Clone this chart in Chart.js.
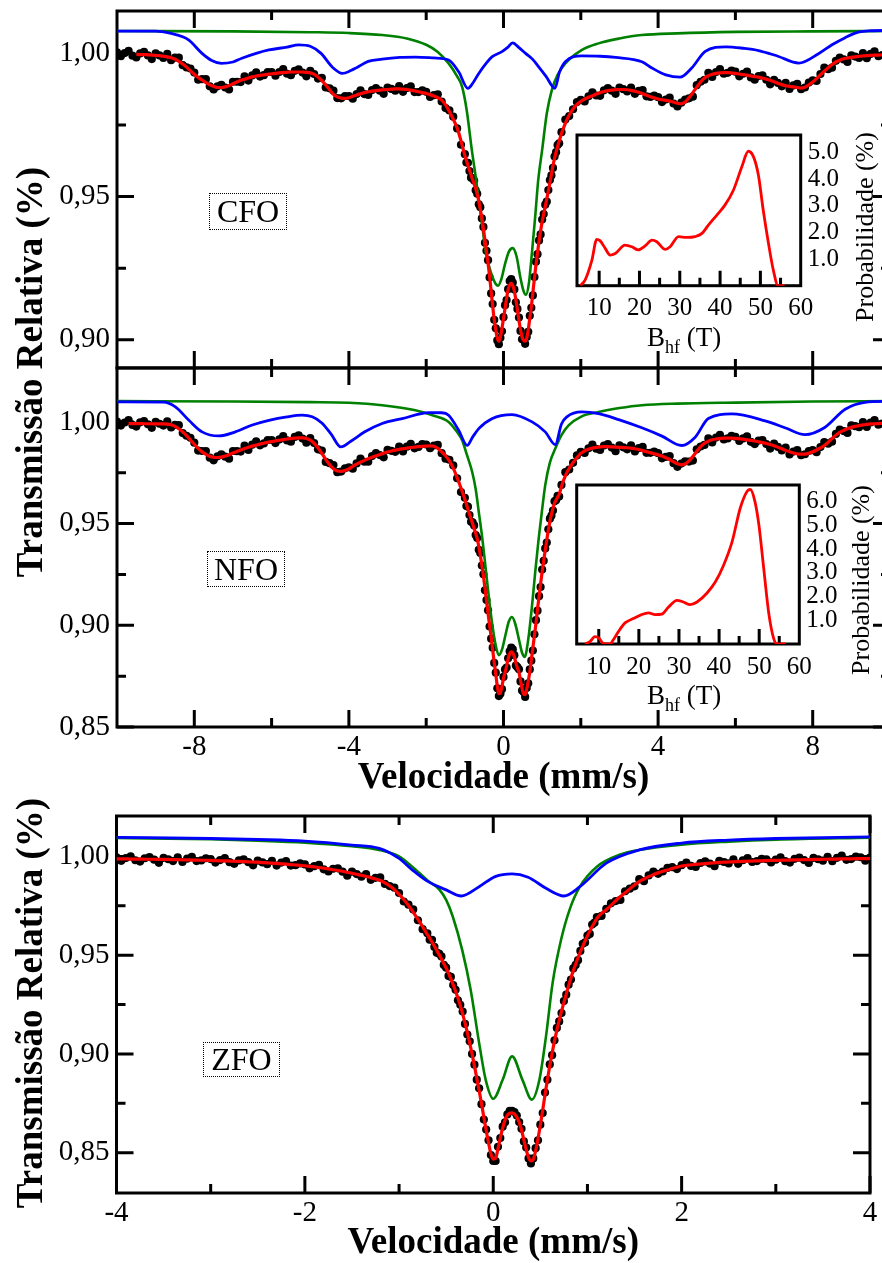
<!DOCTYPE html>
<html>
<head>
<meta charset="utf-8">
<title>Espectros Mössbauer</title>
<script src="https://cdn.jsdelivr.net/npm/chart.js@4.4.1/dist/chart.umd.min.js"></script>
<style>
  html, body { margin: 0; padding: 0; background: #fff; overflow: hidden; }
  #page { position: relative; width: 882px; height: 1263px; overflow: hidden; background: #fff; }
  canvas { position: absolute; }
  .txt { position: absolute; font-family: 'Liberation Serif', 'Times New Roman', serif; color: #000; white-space: nowrap; }
  .ytitle { font-size: 37px; font-weight: bold; line-height: 40px; transform: translate(-50%, -50%) rotate(-90deg); }
  .ptitle { font-size: 26px; line-height: 28px; transform: translate(-50%, -50%) rotate(-90deg); }
  .tag { box-sizing: border-box; border: 1px dotted #000; font-size: 32px; display: flex; align-items: center; justify-content: center; }
  .bhf { font-size: 27px; line-height: 26px; }
  .bhf sub { font-size: 18px; vertical-align: -7px; line-height: 0; }
</style>
</head>
<body>
<div id="page">
  <canvas id="cfo" width="900" height="372" style="left:0;top:0;width:900px;height:372px"></canvas>
  <canvas id="nfo" width="900" height="435" style="left:0;top:362px;width:900px;height:435px"></canvas>
  <canvas id="zfo" width="882" height="462" style="left:0;top:800px;width:882px;height:462px"></canvas>
  <canvas id="cfoDist" width="322" height="215" style="left:560px;top:125px;width:322px;height:215px"></canvas>
  <canvas id="nfoDist" width="322" height="215" style="left:560px;top:475px;width:322px;height:215px"></canvas>

  <div class="txt ytitle" style="left:30px;top:372px">Transmissão Relativa (%)</div>
  <div class="txt ytitle" style="left:30px;top:1003px">Transmissão Relativa (%)</div>

  <div class="txt tag" style="left:209px;top:193px;width:78px;height:37px">CFO</div>
  <div class="txt tag" style="left:207px;top:551px;width:78px;height:36px">NFO</div>
  <div class="txt tag" style="left:203px;top:1042px;width:77px;height:35px">ZFO</div>

  <div class="txt bhf" style="left:647px;top:324px">B<sub>hf</sub> (T)</div>
  <div class="txt bhf" style="left:647px;top:682px">B<sub>hf</sub> (T)</div>
  <div class="txt ptitle" style="left:865px;top:227px">Probabilidade (%)</div>
  <div class="txt ptitle" style="left:861px;top:580px">Probabilidade (%)</div>
</div>

<script>
// ---------- velocity channels (mm/s): coarse outer channels, fine channels over the central doublet ----------
function channels(segments) {
  const v = [];
  for (const [start, step, count] of segments) {
    for (let i = 0; i < count; i++) v.push(+(start + i * step).toFixed(3));
  }
  return v;
}
const ferriteChannels = channels([[-10, 0.1, 90], [-1.0, 0.04, 62], [1.5, 0.1, 85]]);
const zincChannels = channels([[-4, 0.05, 66], [-0.7, 0.025, 73], [1.15, 0.05, 58]]);

// ---------- CFO ----------
const cfoDots = [
  1.0004,0.9990,1.0001,1.0009,0.9992,0.9986,1.0000,1.0005,0.9993,0.9980,
  1.0000,0.9993,0.9984,0.9998,0.9976,0.9985,0.9985,0.9959,0.9951,0.9947,
  0.9933,0.9908,0.9910,0.9910,0.9885,0.9874,0.9885,0.9890,0.9881,0.9874,
  0.9901,0.9901,0.9900,0.9920,0.9905,0.9923,0.9934,0.9919,0.9924,0.9935,
  0.9935,0.9922,0.9935,0.9945,0.9929,0.9924,0.9939,0.9944,0.9933,0.9920,
  0.9939,0.9928,0.9912,0.9915,0.9881,0.9878,0.9870,0.9844,0.9843,0.9851,
  0.9851,0.9842,0.9858,0.9871,0.9858,0.9855,0.9872,0.9879,0.9870,0.9859,
  0.9881,0.9876,0.9870,0.9886,0.9866,0.9879,0.9885,0.9865,0.9865,0.9871,
  0.9866,0.9848,0.9854,0.9857,0.9832,0.9809,0.9801,0.9779,0.9738,0.9681,
  0.9648,0.9619,0.9618,0.9589,0.9566,0.9564,0.9556,0.9522,0.9510,0.9473,
  0.9463,0.9424,0.9394,0.9339,0.9311,0.9278,0.9218,0.9162,0.9125,0.9070,
  0.9040,0.8998,0.8985,0.9007,0.9030,0.9079,0.9121,0.9139,0.9177,0.9205,
  0.9212,0.9200,0.9176,0.9131,0.9108,0.9078,0.9031,0.9002,0.9005,0.8986,
  0.9010,0.9028,0.9084,0.9112,0.9155,0.9219,0.9273,0.9299,0.9347,0.9368,
  0.9420,0.9439,0.9472,0.9483,0.9523,0.9558,0.9574,0.9600,0.9640,0.9655,
  0.9680,0.9686,
  0.9725,0.9769,0.9781,0.9805,0.9830,
  0.9838,0.9832,0.9850,0.9864,0.9853,0.9852,0.9871,0.9879,0.9870,0.9859,
  0.9881,0.9875,0.9867,0.9881,0.9859,0.9869,0.9872,0.9850,0.9848,0.9853,
  0.9847,0.9830,0.9839,0.9846,0.9825,0.9815,0.9828,0.9839,0.9843,0.9849,
  0.9889,0.9901,0.9908,0.9932,0.9918,0.9935,0.9945,0.9929,0.9932,0.9940,
  0.9936,0.9920,0.9929,0.9936,0.9916,0.9908,0.9921,0.9923,0.9908,0.9892,
  0.9908,0.9897,0.9885,0.9897,0.9876,0.9888,0.9894,0.9875,0.9881,0.9898,
  0.9906,0.9904,0.9928,0.9950,0.9945,0.9950,0.9974,0.9985,0.9979,0.9970,
  0.9993,0.9989,0.9984,1.0001,0.9983,0.9998,1.0007,0.9990,0.9994,1.0003
];
const cfoFit = [
  null,null,null,null,null,0.9997,0.9996,0.9996,0.9995,0.9994,
  0.9993,0.9992,0.9990,0.9988,0.9985,0.9980,0.9972,0.9963,0.9952,0.9939,
  0.9927,0.9916,0.9907,0.9898,0.9890,0.9885,0.9881,0.9881,0.9883,0.9888,
  0.9894,0.9900,0.9906,0.9910,0.9914,0.9918,0.9921,0.9923,0.9925,0.9927,
  0.9929,0.9930,0.9932,0.9933,0.9934,0.9935,0.9935,0.9935,0.9935,0.9934,
  0.9932,0.9927,0.9918,0.9905,0.9890,0.9873,0.9857,0.9848,0.9844,0.9843,
  0.9845,0.9850,0.9855,0.9859,0.9863,0.9866,0.9868,0.9870,0.9872,0.9873,
  0.9874,0.9875,0.9876,0.9876,0.9875,0.9874,0.9872,0.9869,0.9866,0.9863,
  0.9860,0.9856,0.9851,0.9845,0.9837,0.9820,0.9797,0.9770,0.9740,0.9695,
  0.9643,0.9626,0.9609,0.9592,0.9576,0.9560,0.9545,0.9528,0.9508,0.9485,
  0.9455,0.9425,0.9388,0.9348,0.9308,0.9268,0.9222,0.9170,0.9118,0.9070,
  0.9035,0.9005,0.8995,0.9010,0.9040,0.9075,0.9110,0.9145,0.9175,0.9192,
  0.9197,0.9190,0.9170,0.9140,0.9105,0.9068,0.9035,0.9010,0.8998,0.8995,
  0.9005,0.9035,0.9075,0.9115,0.9165,0.9215,0.9262,0.9305,0.9345,0.9380,
  0.9412,0.9440,0.9466,0.9492,0.9520,0.9548,0.9578,0.9608,0.9633,0.9655,
  0.9675,0.9693,
  0.9720,0.9756,0.9785,0.9806,0.9822,0.9832,0.9840,0.9847,0.9852,0.9858,
  0.9863,0.9867,0.9870,0.9872,0.9873,0.9874,0.9874,0.9873,0.9871,0.9868,
  0.9864,0.9859,0.9854,0.9849,0.9845,0.9841,0.9838,0.9836,0.9834,0.9830,
  0.9826,0.9824,0.9830,0.9845,0.9863,0.9882,0.9900,0.9914,0.9922,0.9927,
  0.9930,0.9932,0.9933,0.9933,0.9932,0.9930,0.9928,0.9926,0.9924,0.9921,
  0.9919,0.9917,0.9914,0.9910,0.9906,0.9901,0.9896,0.9891,0.9887,0.9885,
  0.9883,0.9881,0.9879,0.9882,0.9890,0.9900,0.9912,0.9925,0.9938,0.9950,
  0.9961,0.9970,0.9976,0.9981,0.9984,0.9986,0.9988,0.9990,0.9991,0.9992,
  0.9993,0.9994,0.9994,0.9995,0.9995
];
const cfoDoubletV = [-10,-7,-5,-4,-3.14,-2.5,-2.0,-1.7,-1.42,-1.2,-1.07,-0.95,-0.82,-0.72,-0.64,-0.55,-0.47,-0.38,-0.3,-0.2,-0.14,-0.06,0.04,0.14,0.24,0.34,0.44,0.52,0.58,0.66,0.74,0.82,0.9,1.0,1.12,1.25,1.4,1.6,2.0,2.46,3.0,3.58,4.5,6,8,10];
const cfoDoublet = [1.0078,1.0077,1.0074,1.0071,1.0064,1.0052,1.0030,1.0005,0.9965,0.9920,0.9883,0.9800,0.9663,0.9570,0.9488,0.9400,0.9314,0.9260,0.9225,0.9195,0.9189,0.9210,0.9265,0.9308,0.9320,0.9290,0.9215,0.9170,0.9157,0.9200,0.9310,0.9430,0.9560,0.9663,0.9790,0.9872,0.9925,0.9965,1.0010,1.0035,1.0052,1.0064,1.0070,1.0075,1.0077,1.0078];
const cfoSextetV = [-10,-9,-8.6,-8.3,-8.14,-7.8,-7.55,-7.3,-7.0,-6.77,-6.4,-6.07,-5.6,-5.3,-5.0,-4.72,-4.42,-4.17,-3.95,-3.79,-3.5,-3.14,-2.68,-2.28,-1.8,-1.42,-1.16,-0.92,-0.8,-0.64,-0.45,-0.3,-0.04,0.1,0.24,0.4,0.57,0.75,0.91,1.1,1.33,1.45,1.6,2.03,2.5,2.9,3.58,3.84,4.2,4.57,4.87,5.22,5.75,6.2,6.6,7.1,7.64,8.15,8.5,8.84,9.2,9.5,10];
const cfoSextet = [1.0078,1.0078,1.0070,1.0058,1.0046,1.0000,0.9975,0.9965,0.9970,0.9983,1.0000,1.0012,1.0022,1.0030,1.0025,1.0000,0.9951,0.9930,0.9940,0.9951,0.9972,0.9980,0.9986,0.9987,0.9984,0.9977,0.9936,0.9878,0.9895,0.9930,0.9965,0.9988,1.0006,1.0020,1.0037,1.0020,1.0000,0.9980,0.9953,0.9920,0.9878,0.9935,0.9971,0.9991,0.9990,0.9986,0.9971,0.9949,0.9925,0.9917,0.9949,1.0007,1.0023,1.0018,1.0010,0.9990,0.9966,0.9999,1.0030,1.0055,1.0075,1.0079,1.0080];

// ---------- NFO ----------
const nfoDots = [
  1.0001,0.9982,0.9997,1.0009,0.9985,0.9977,0.9998,1.0004,0.9988,0.9971,
  1.0000,0.9991,0.9982,1.0003,0.9973,0.9985,0.9984,0.9945,0.9932,0.9922,
  0.9898,0.9859,0.9857,0.9857,0.9824,0.9811,0.9831,0.9840,0.9829,0.9819,
  0.9857,0.9856,0.9854,0.9883,0.9862,0.9888,0.9904,0.9885,0.9894,0.9911,
  0.9911,0.9896,0.9914,0.9930,0.9909,0.9903,0.9926,0.9934,0.9918,0.9898,
  0.9920,0.9896,0.9865,0.9859,0.9803,0.9797,0.9788,0.9753,0.9756,0.9772,
  0.9777,0.9770,0.9796,0.9819,0.9804,0.9804,0.9832,0.9846,0.9837,0.9826,
  0.9862,0.9858,0.9853,0.9879,0.9855,0.9878,0.9892,0.9870,0.9877,0.9891,
  0.9889,0.9871,0.9884,0.9887,0.9846,0.9819,0.9814,0.9786,0.9723,0.9655,
  0.9627,0.9586,0.9583,0.9542,0.9509,0.9506,0.9491,0.9444,0.9429,0.9371,
  0.9356,0.9294,0.9251,0.9172,0.9124,0.9074,0.8994,0.8934,0.8890,0.8815,
  0.8767,0.8690,0.8652,0.8664,0.8686,0.8746,0.8783,0.8792,0.8838,0.8872,
  0.8890,0.8882,0.8853,0.8802,0.8794,0.8784,0.8724,0.8679,0.8672,0.8648,
  0.8692,0.8715,0.8783,0.8826,0.8876,0.8956,0.9025,0.9072,0.9143,0.9188,
  0.9274,0.9317,0.9378,0.9407,0.9472,0.9524,0.9539,0.9564,0.9610,0.9615,
  0.9637,0.9633,
  0.9690,0.9753,0.9766,0.9799,0.9835,
  0.9853,0.9847,0.9870,0.9888,0.9868,0.9862,0.9884,0.9891,0.9874,0.9856,
  0.9885,0.9875,0.9865,0.9885,0.9855,0.9871,0.9877,0.9848,0.9848,0.9854,
  0.9846,0.9821,0.9828,0.9832,0.9797,0.9779,0.9795,0.9806,0.9805,0.9810,
  0.9865,0.9879,0.9887,0.9919,0.9899,0.9923,0.9936,0.9914,0.9919,0.9931,
  0.9927,0.9906,0.9919,0.9929,0.9902,0.9891,0.9908,0.9911,0.9891,0.9869,
  0.9893,0.9877,0.9860,0.9874,0.9840,0.9854,0.9861,0.9836,0.9841,0.9857,
  0.9861,0.9851,0.9876,0.9901,0.9893,0.9903,0.9941,0.9962,0.9955,0.9946,
  0.9983,0.9979,0.9974,0.9999,0.9975,0.9997,1.0009,0.9986,0.9992,1.0005
];
const nfoFit = [
  null,null,null,0.9992,0.9992,0.9992,0.9992,0.9991,0.9991,0.9991,
  0.9990,0.9990,0.9990,0.9989,0.9986,0.9978,0.9966,0.9951,0.9933,0.9911,
  0.9890,0.9870,0.9853,0.9840,0.9831,0.9826,0.9825,0.9827,0.9832,0.9839,
  0.9847,0.9855,0.9862,0.9869,0.9875,0.9881,0.9886,0.9891,0.9895,0.9900,
  0.9903,0.9907,0.9910,0.9913,0.9916,0.9918,0.9920,0.9921,0.9921,0.9918,
  0.9910,0.9895,0.9873,0.9845,0.9816,0.9790,0.9770,0.9759,0.9757,0.9761,
  0.9769,0.9781,0.9792,0.9802,0.9811,0.9819,0.9826,0.9833,0.9840,0.9846,
  0.9852,0.9857,0.9861,0.9865,0.9868,0.9871,0.9874,0.9876,0.9878,0.9880,
  0.9881,0.9882,0.9880,0.9870,0.9853,0.9834,0.9808,0.9773,0.9726,0.9675,
  0.9620,0.9596,0.9570,0.9546,0.9523,0.9500,0.9476,0.9452,0.9426,0.9388,
  0.9345,0.9295,0.9243,0.9185,0.9120,0.9060,0.9000,0.8945,0.8880,0.8815,
  0.8760,0.8700,0.8664,0.8668,0.8700,0.8740,0.8768,0.8800,0.8835,0.8860,
  0.8869,0.8865,0.8845,0.8815,0.8790,0.8770,0.8730,0.8690,0.8662,0.8659,
  0.8685,0.8725,0.8770,0.8830,0.8890,0.8950,0.9010,0.9080,0.9140,0.9205,
  0.9263,0.9318,0.9370,0.9420,0.9468,0.9510,0.9545,0.9575,0.9600,0.9615,
  0.9630,0.9643,
  0.9683,0.9735,0.9772,0.9800,0.9824,0.9845,0.9858,0.9866,0.9871,0.9875,
  0.9877,0.9878,0.9878,0.9877,0.9876,0.9875,0.9874,0.9873,0.9871,0.9868,
  0.9864,0.9859,0.9854,0.9849,0.9843,0.9838,0.9832,0.9824,0.9815,0.9804,
  0.9794,0.9789,0.9793,0.9808,0.9830,0.9855,0.9878,0.9895,0.9905,0.9912,
  0.9916,0.9918,0.9920,0.9920,0.9920,0.9919,0.9917,0.9915,0.9912,0.9909,
  0.9906,0.9902,0.9898,0.9894,0.9889,0.9883,0.9876,0.9868,0.9860,0.9853,
  0.9847,0.9843,0.9842,0.9842,0.9846,0.9853,0.9862,0.9872,0.9884,0.9900,
  0.9918,0.9935,0.9949,0.9958,0.9966,0.9973,0.9978,0.9982,0.9985,0.9988,
  0.9990,0.9991,0.9992,0.9993,0.9994
];
const nfoDoubletV = [-10,-7,-5,-4,-3.14,-2.28,-1.8,-1.42,-1.2,-1.07,-0.95,-0.81,-0.72,-0.64,-0.55,-0.47,-0.38,-0.3,-0.2,-0.12,-0.04,0.06,0.14,0.22,0.3,0.4,0.48,0.55,0.64,0.74,0.82,0.91,1.0,1.08,1.2,1.34,1.5,1.69,2.0,2.46,3.0,3.58,4.5,6,8,10];
const nfoDoublet = [1.0102,1.0100,1.0097,1.0094,1.0082,1.0057,1.0030,1.0000,0.9950,0.9910,0.9840,0.9754,0.9670,0.9558,0.9430,0.9295,0.9140,0.9017,0.8900,0.8853,0.8880,0.8960,0.9020,0.9041,0.9010,0.8930,0.8865,0.8845,0.8930,0.9099,0.9260,0.9426,0.9570,0.9689,0.9800,0.9869,0.9935,0.9984,1.0025,1.0049,1.0068,1.0082,1.0090,1.0095,1.0100,1.0102];
const nfoSextetV = [-10,-8.8,-8.49,-8.14,-7.8,-7.37,-6.94,-6.5,-6.07,-5.6,-5.21,-4.95,-4.7,-4.46,-4.21,-3.95,-3.6,-3.14,-2.62,-1.93,-1.6,-1.42,-1.16,-0.94,-0.8,-0.64,-0.3,0.22,0.74,1.08,1.34,1.5,1.64,2.03,2.46,3.0,3.58,4.1,4.61,4.96,5.3,5.9,6.77,7.3,7.8,8.3,8.84,9.35,10];
const nfoSextet = [1.0098,1.0097,1.0074,1.0008,0.9951,0.9931,0.9951,0.9985,1.0008,1.0025,1.0033,1.0025,0.9995,0.9940,0.9877,0.9905,0.9950,0.9992,1.0016,1.0046,1.0045,1.0033,0.9959,0.9885,0.9925,0.9967,1.0016,1.0036,1.0000,0.9951,0.9888,0.9990,1.0025,1.0049,1.0041,1.0010,0.9971,0.9930,0.9884,0.9925,1.0017,1.0039,1.0005,0.9970,0.9937,0.9971,1.0062,1.0096,1.0101];

// ---------- ZFO ----------
const zfoDots = [
  0.9995,0.9978,0.9992,1.0001,0.9981,0.9974,0.9991,0.9997,0.9984,0.9968,
  0.9993,0.9986,0.9977,0.9996,0.9972,0.9989,0.9998,0.9977,0.9980,0.9991,
  0.9987,0.9969,0.9982,0.9992,0.9971,0.9963,0.9980,0.9985,0.9971,0.9955,
  0.9979,0.9970,0.9961,0.9978,0.9954,0.9969,0.9977,0.9954,0.9956,0.9965,
  0.9960,0.9940,0.9951,0.9958,0.9935,0.9924,0.9938,0.9940,0.9923,0.9903,
  0.9923,0.9911,0.9898,0.9911,0.9882,0.9892,0.9894,0.9861,0.9850,0.9842,
  0.9815,0.9772,0.9756,0.9732,0.9677,0.9632,
  0.9611,0.9579,0.9578,0.9542,0.9513,0.9508,0.9494,0.9451,0.9437,0.9395,
  0.9390,0.9349,0.9325,0.9272,0.9249,0.9215,0.9152,0.9098,0.9064,0.9000,
  0.8946,0.8870,0.8826,0.8746,0.8668,0.8617,0.8563,0.8488,0.8458,0.8458,
  0.8530,0.8574,0.8632,0.8654,0.8694,0.8712,0.8712,0.8706,0.8688,0.8655,
  0.8621,0.8557,0.8526,0.8471,0.8446,0.8471,0.8523,0.8563,0.8642,0.8701,
  0.8805,0.8869,0.8947,0.8994,0.9069,0.9132,0.9165,0.9207,0.9268,0.9300,
  0.9351,0.9377,0.9433,0.9451,0.9475,0.9522,0.9558,0.9565,0.9600,0.9608,
  0.9655,0.9665,0.9693,
  0.9699,0.9735,0.9763,0.9774,0.9780,0.9824,0.9837,0.9849,0.9885,0.9875,
  0.9904,0.9924,0.9912,0.9924,0.9942,0.9946,0.9936,0.9956,0.9969,0.9952,
  0.9947,0.9967,0.9975,0.9964,0.9951,0.9978,0.9972,0.9965,0.9985,0.9963,
  0.9981,0.9992,0.9972,0.9977,0.9988,0.9986,0.9970,0.9984,0.9995,0.9976,
  0.9969,0.9988,0.9994,0.9982,0.9967,0.9993,0.9986,0.9979,0.9998,0.9976,
  0.9993,1.0004,0.9983,0.9987,0.9999,0.9996,0.9979,0.9994
];
const zfoFit = [
  0.9988,0.9988,0.9988,0.9987,0.9987,0.9987,0.9986,0.9986,0.9986,0.9985,
  0.9985,0.9985,0.9984,0.9984,0.9983,0.9983,0.9982,0.9982,0.9981,0.9981,
  0.9980,0.9979,0.9978,0.9978,0.9977,0.9976,0.9975,0.9974,0.9973,0.9972,
  0.9971,0.9969,0.9968,0.9966,0.9965,0.9963,0.9961,0.9959,0.9957,0.9955,
  0.9953,0.9950,0.9947,0.9944,0.9941,0.9937,0.9933,0.9929,0.9925,0.9920,
  0.9915,0.9910,0.9905,0.9899,0.9893,0.9886,0.9878,0.9866,0.9851,0.9832,
  0.9808,0.9782,0.9752,0.9718,0.9683,0.9645,
  0.9605,0.9587,0.9567,0.9546,0.9525,0.9503,0.9481,0.9458,0.9435,0.9409,
  0.9380,0.9350,0.9318,0.9283,0.9245,0.9203,0.9157,0.9108,0.9056,0.9000,
  0.8940,0.8878,0.8815,0.8750,0.8680,0.8612,0.8550,0.8495,0.8468,0.8472,
  0.8520,0.8575,0.8625,0.8665,0.8690,0.8700,0.8702,0.8696,0.8680,0.8655,
  0.8615,0.8565,0.8515,0.8475,0.8458,0.8466,0.8510,0.8570,0.8640,0.8715,
  0.8795,0.8870,0.8940,0.9005,0.9065,0.9120,0.9170,0.9217,0.9260,0.9303,
  0.9345,0.9385,0.9422,0.9455,0.9487,0.9517,0.9545,0.9572,0.9598,0.9622,
  0.9645,0.9666,0.9686,
  0.9712,0.9730,0.9752,0.9776,0.9797,0.9816,0.9836,0.9856,0.9873,0.9886,
  0.9898,0.9908,0.9917,0.9925,0.9932,0.9939,0.9946,0.9952,0.9955,0.9958,
  0.9960,0.9962,0.9964,0.9966,0.9968,0.9970,0.9971,0.9972,0.9973,0.9974,
  0.9975,0.9976,0.9977,0.9978,0.9978,0.9979,0.9980,0.9980,0.9981,0.9982,
  0.9982,0.9983,0.9983,0.9984,0.9984,0.9985,0.9985,0.9986,0.9986,0.9987,
  0.9987,0.9988,0.9988,0.9988,0.9989,0.9989,0.9989,0.9990
];
const zfoDoubletV = [-4,-3,-2.5,-2,-1.5,-1.21,-1.0,-0.86,-0.7,-0.57,-0.5,-0.43,-0.33,-0.24,-0.15,-0.08,0.0,0.1,0.2,0.31,0.41,0.49,0.56,0.63,0.72,0.81,0.92,1.1,1.35,1.55,2,2.5,3,4];
const zfoDoublet = [1.0094,1.0087,1.0080,1.0070,1.0052,1.0033,1.0000,0.9948,0.9880,0.9831,0.9780,0.9696,0.9527,0.9325,0.9056,0.8869,0.8773,0.8869,0.8988,0.8869,0.8769,0.8869,0.9089,0.9359,0.9578,0.9730,0.9847,0.9948,1.0010,1.0033,1.0060,1.0075,1.0085,1.0095];
const zfoSecondV = [-4,-3,-2.5,-2,-1.5,-1.21,-1.0,-0.86,-0.7,-0.5,-0.34,-0.15,0.02,0.2,0.37,0.56,0.75,0.92,1.2,1.55,2,2.5,3,4];
const zfoSecond = [1.0097,1.0091,1.0086,1.0078,1.0058,1.0041,0.9990,0.9932,0.9875,0.9831,0.9800,0.9847,0.9898,0.9912,0.9895,0.9839,0.9800,0.9847,0.9966,1.0033,1.0068,1.0083,1.0091,1.0099];

// ---------- hyperfine field distributions ----------
const cfoBhf = [5.3,6.5,8.2,9.4,10.2,11.5,12.7,14.0,16.4,18.1,19.7,21.4,23.1,24.3,26.4,27.6,29.7,31.7,33.8,35.5,37.1,39.2,41.2,43.3,45.4,47.0,48.3,49.5,50.7,52.0,53.2,54.4,56.0];
const cfoProb = [0,0.21,0.96,1.74,1.69,1.40,1.15,1.21,1.52,1.46,1.34,1.49,1.71,1.65,1.36,1.46,1.84,1.81,1.84,1.96,2.27,2.65,3.02,3.58,4.46,5.04,4.83,4.15,2.84,1.59,0.59,0,0];
const nfoBhf = [6.55,7.8,9.05,10.1,11.1,12.8,13.6,14.9,16.55,18.6,20.7,22.4,24.05,25.7,27.4,29.5,31.1,32.8,34.5,37.0,39.05,41.1,43.2,45.3,47.0,47.8,48.9,49.9,51.1,52.4,53.6,54.5,56.6];
const nfoProb = [0,0.10,0.31,0.24,0.03,0,0.17,0.52,0.89,1.07,1.24,1.31,1.24,1.26,1.56,1.84,1.77,1.66,1.77,2.15,2.61,3.31,4.28,5.74,6.44,6.51,6.03,5.05,3.23,1.28,0.24,0,0];

// ---------- tick values ----------
const ferriteXMajor = [-8, -4, 0, 4, 8];
const ferriteXMinor = [-6, -2, 2, 6];
const zincXMajor = [-4, -2, 0, 2, 4];
const zincXMinor = [-3, -1, 1, 3];
const cfoYMajor = [0.90, 0.95, 1.00];
const cfoYMinor = [0.925, 0.975];
const lowerYMajor = [0.85, 0.90, 0.95, 1.00];
const lowerYMinor = [0.875, 0.925, 0.975];
const bhfLabels = [10, 20, 30, 40, 50, 60];
const bhfMajor = [10, 20, 30, 40, 50];
const bhfMinor = [15, 25, 35, 45, 55];
const cfoProbTicks = [1, 2, 3, 4, 5];
const nfoProbTicks = [1, 2, 3, 4, 5, 6];

// ---------- drawing ----------
const serif = "'Liberation Serif', 'Times New Roman', serif";
const points = (xs, ys) => xs.map((x, i) => ({x, y: ys[i]})).filter(p => p.y !== null);

// fixed axis box sizes, with no extra room reserved for end labels
function fixBox(sc, size) {
  if (sc.isHorizontal()) sc.height = size; else sc.width = size;
  sc.paddingTop = 0; sc.paddingBottom = 0; sc.paddingLeft = 0; sc.paddingRight = 0;
}

// box around the plot area with inward major/minor tick marks
const frame = {
  id: 'frame',
  beforeDatasetsDraw(chart, args, o) {
    const {ctx, chartArea: a, scales: {x, y}} = chart;
    ctx.save();
    ctx.strokeStyle = '#000';
    ctx.lineWidth = o.lineWidth;
    ctx.lineCap = 'butt';
    ctx.strokeRect(a.left, a.top, a.right - a.left, a.bottom - a.top);
    ctx.beginPath();
    const marks = (xs, ys, len) => {
      for (const v of xs) {
        const px = x.getPixelForValue(v);
        if (o.xSides.includes('b')) { ctx.moveTo(px, a.bottom); ctx.lineTo(px, a.bottom - len); }
        if (o.xSides.includes('t')) { ctx.moveTo(px, a.top); ctx.lineTo(px, a.top + len); }
      }
      for (const v of ys) {
        const py = y.getPixelForValue(v);
        if (o.ySides.includes('l')) { ctx.moveTo(a.left, py); ctx.lineTo(a.left + len, py); }
        if (o.ySides.includes('r')) { ctx.moveTo(a.right, py); ctx.lineTo(a.right - len, py); }
      }
    };
    marks(o.xMajor, o.yMajor, o.majorLen);
    marks(o.xMinor, o.yMinor, o.minorLen);
    ctx.stroke();
    ctx.restore();
  }
};

function spectrum(id, s) {
  return new Chart(document.getElementById(id), {
    type: 'scatter',
    data: {
      datasets: [
        {data: points(s.v, s.dots), showLine: false, pointRadius: 4.1, pointHoverRadius: 0,
         pointBackgroundColor: '#000', pointBorderWidth: 0, order: 5},
        {data: points(s.greenV, s.green), showLine: true, pointRadius: 0, borderColor: '#008000',
         borderWidth: 2.6, cubicInterpolationMode: 'monotone', order: 4},
        {data: points(s.blueV, s.blue), showLine: true, pointRadius: 0, borderColor: '#0000ff',
         borderWidth: 2.8, cubicInterpolationMode: 'monotone', order: 3},
        {data: points(s.v, s.fit), showLine: true, pointRadius: 0, borderColor: '#ff0000',
         borderWidth: 3.2, cubicInterpolationMode: 'monotone', order: 2}
      ]
    },
    options: {
      responsive: false, animation: false, devicePixelRatio: 1, events: [],
      layout: {padding: s.padding},
      plugins: {
        legend: {display: false}, tooltip: {enabled: false},
        frame: {lineWidth: 3, majorLen: 17, minorLen: 9, xSides: 'bt', ySides: s.ySides,
                xMajor: s.xMajor, xMinor: s.xMinor, yMajor: s.yMajor, yMinor: s.yMinor}
      },
      scales: {
        x: {
          type: 'linear', position: 'bottom', min: s.xMin, max: s.xMax,
          grid: {display: false, drawTicks: false}, border: {display: false},
          ticks: {display: s.xLabels, autoSkip: false, maxRotation: 0, padding: 3, color: '#000',
                  font: {family: serif, size: 29}, callback: v => String(v)},
          title: {display: s.xLabels, text: 'Velocidade (mm/s)', color: '#000', padding: 0,
                  font: {family: serif, size: 37, weight: 'bold', lineHeight: 1}},
          afterBuildTicks: sc => { sc.ticks = s.xMajor.map(value => ({value})); },
          afterFit: sc => fixBox(sc, s.xAxisHeight)
        },
        y: {
          type: 'linear', position: 'left', min: s.yMin, max: s.yMax,
          grid: {display: false, drawTicks: false}, border: {display: false},
          ticks: {autoSkip: false, padding: 7, color: '#000', font: {family: serif, size: 29},
                  callback: v => v.toFixed(2).replace('.', ',')},
          afterBuildTicks: sc => { sc.ticks = s.yMajor.map(value => ({value})); },
          afterFit: sc => fixBox(sc, s.yAxisWidth)
        }
      }
    },
    plugins: [frame]
  });
}

function distribution(id, s) {
  return new Chart(document.getElementById(id), {
    type: 'scatter',
    data: {
      datasets: [{data: points(s.b, s.p), showLine: true, pointRadius: 0, borderColor: '#ff0000',
                  borderWidth: 2.8, cubicInterpolationMode: 'monotone'}]
    },
    options: {
      responsive: false, animation: false, devicePixelRatio: 1, events: [],
      layout: {padding: s.padding},
      plugins: {
        legend: {display: false}, tooltip: {enabled: false},
        frame: {lineWidth: 3, majorLen: 15, minorLen: 8, xSides: 'b', ySides: '',
                xMajor: bhfMajor, xMinor: bhfMinor, yMajor: [], yMinor: []}
      },
      scales: {
        x: {
          type: 'linear', position: 'bottom', min: 4.5, max: 60,
          grid: {display: false, drawTicks: false}, border: {display: false},
          ticks: {autoSkip: false, maxRotation: 0, padding: 8, color: '#000',
                  font: {family: serif, size: 25}, callback: v => String(v)},
          afterBuildTicks: sc => { sc.ticks = bhfLabels.map(value => ({value})); },
          afterFit: sc => fixBox(sc, s.xAxisHeight)
        },
        y: {
          type: 'linear', position: 'right', min: 0, max: s.yMax,
          grid: {display: false, drawTicks: false}, border: {display: false},
          ticks: {autoSkip: false, padding: 7, color: '#000', font: {family: serif, size: 25},
                  callback: v => v.toFixed(1)},
          afterBuildTicks: sc => { sc.ticks = s.yTicks.map(value => ({value})); },
          afterFit: sc => fixBox(sc, s.yAxisWidth)
        }
      }
    },
    plugins: [frame]
  });
}

spectrum('cfo', {
  v: ferriteChannels, dots: cfoDots, fit: cfoFit,
  greenV: cfoDoubletV, green: cfoDoublet, blueV: cfoSextetV, blue: cfoSextet,
  xMin: -10, xMax: 10, yMin: 0.8902, yMax: 1.0148,
  xMajor: ferriteXMajor, xMinor: ferriteXMinor, yMajor: cfoYMajor, yMinor: cfoYMinor,
  xLabels: false, xAxisHeight: 4, yAxisWidth: 117, ySides: 'lr',
  padding: {top: 11, right: 10, left: 0, bottom: 0}
});
spectrum('nfo', {
  v: ferriteChannels, dots: nfoDots, fit: nfoFit,
  greenV: nfoDoubletV, green: nfoDoublet, blueV: nfoSextetV, blue: nfoSextet,
  xMin: -10, xMax: 10, yMin: 0.85, yMax: 1.0265,
  xMajor: ferriteXMajor, xMinor: ferriteXMinor, yMajor: lowerYMajor, yMinor: lowerYMinor,
  xLabels: true, xAxisHeight: 70, yAxisWidth: 117, ySides: 'lr',
  padding: {top: 6, right: 10, left: 0, bottom: 0}
});
spectrum('zfo', {
  v: zincChannels, dots: zfoDots, fit: zfoFit,
  greenV: zfoDoubletV, green: zfoDoublet, blueV: zfoSecondV, blue: zfoSecond,
  xMin: -4, xMax: 4, yMin: 0.8296, yMax: 1.0205,
  xMajor: zincXMajor, xMinor: zincXMinor, yMajor: lowerYMajor, yMinor: lowerYMinor,
  xLabels: true, xAxisHeight: 69, yAxisWidth: 116.5, ySides: 'lr',
  padding: {top: 16, right: 12, left: 0, bottom: 0}
});
distribution('cfoDist', {
  b: cfoBhf, p: cfoProb, yMax: 5.65, yTicks: cfoProbTicks,
  xAxisHeight: 54.3, yAxisWidth: 81.3, padding: {top: 10, left: 17, right: 0, bottom: 0}
});
distribution('nfoDist', {
  b: nfoBhf, p: nfoProb, yMax: 6.7, yTicks: nfoProbTicks,
  xAxisHeight: 46, yAxisWidth: 82.7, padding: {top: 10, left: 16.7, right: 0, bottom: 0}
});
</script>
</body>
</html>
